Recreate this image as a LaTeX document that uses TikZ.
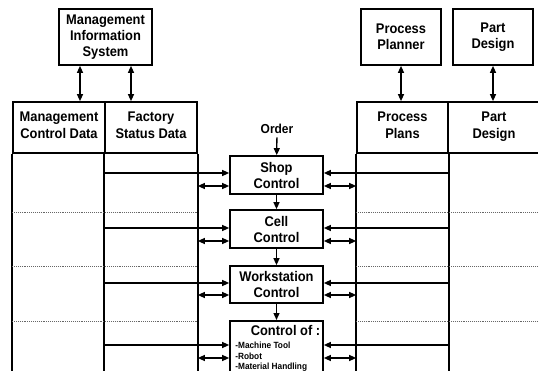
\documentclass[tikz,border=0pt]{standalone}
\usepackage{fontspec}
\setmainfont{Liberation Sans}[FakeStretch=0.92]
\usetikzlibrary{arrows.meta}

\begin{document}
\begin{tikzpicture}[x=1pt,y=-1pt]

\tikzstyle{topnode} = [draw,line width=1.7pt,align=center,minimum height=56pt,font=\fontsize{14}{16}\selectfont\bfseries];
\tikzstyle{headnode} = [draw,line width=1.7pt,align=center,minimum height=51pt,font=\fontsize{14}{17}\selectfont\bfseries,execute at begin node={\strut},execute at end node={\strut}];
\tikzstyle{ctrlnode} = [draw,line width=1.7pt,align=center,minimum width=93pt,font=\fontsize{14}{16}\selectfont\bfseries];
\tikzstyle{col} = [line width=1.7pt];
\tikzstyle{arr} = [line width=1.3pt,-{Triangle[length=7pt,width=6pt]}];
\tikzstyle{dbl} = [line width=1.3pt,{Triangle[length=7pt,width=6pt]}-{Triangle[length=7pt,width=6pt]}];
\tikzstyle{sep} = [line width=0.9pt,black!60,densely dotted];

\clip (0,0) rectangle (538,371);

% top boxes
\node [topnode,minimum width=93pt] (mis) at (105.5,37) {Management\\Information\\System};
\node [topnode,minimum width=80pt] (planner) at (401,37) {Process\\Planner};
\node [topnode,minimum width=80pt] (design) at (493,37) {Part\\Design};

% table headers
\node [headnode,minimum width=92pt] (mcd) at (59,127.5) {Management\\Control Data};
\node [headnode,minimum width=92pt] (fsd) at (151,127.5) {Factory\\Status Data};
\node [headnode,minimum width=91pt] (pp) at (402.5,127.5) {Process\\Plans};
\node [headnode,minimum width=92pt] (pd) at (494,127.5) {Part\\Design};

\draw [col] (mcd.south west) -- (mcd.south west |- 0,390);
\draw [col] (fsd.south west) -- (fsd.south west |- 0,390);
\draw [col] (fsd.south east) -- (fsd.south east |- 0,390);
\draw [col] (pp.south west) -- (pp.south west |- 0,390);
\draw [col] (pp.south east) -- (pp.south east |- 0,390);

\draw [dbl] ([xshift=-25.5pt]mis.south) -- ([xshift=-25.5pt]mis.south |- mcd.north);
\draw [dbl] ([xshift=25.5pt]mis.south) -- ([xshift=25.5pt]mis.south |- fsd.north);
\draw [dbl] (planner.south) -- (planner.south |- pp.north);
\draw [dbl] (design.south) -- (design.south |- pd.north);

% control levels
\node [font=\fontsize{13}{15}\selectfont\bfseries] (order) at (277,129) {Order};
\node [ctrlnode,minimum height=38pt] (shop) at (276.5,175) {Shop\\Control};
\node [ctrlnode,minimum height=38pt] (cell) at (276.5,229) {Cell\\Control};
\node [ctrlnode,minimum height=37pt] (work) at (276.5,284.5) {Workstation\\Control};
\node [ctrlnode,minimum height=70pt,anchor=north] (ctrl) at (276.5,320) {};
\node [anchor=north,font=\fontsize{14}{16}\selectfont\bfseries] (ctrlof) at ([xshift=9pt,yshift=-2pt]ctrl.north) {Control of :};
\node [anchor=north west,align=left,inner sep=0pt,font=\fontsize{9}{10.5}\selectfont\bfseries] (items) at ([xshift=6pt,yshift=-22pt]ctrl.north west) {-Machine Tool\\-Robot\\-Material Handling};

\draw [arr] (order) -- (shop);
\draw [arr] (shop) -- (cell);
\draw [arr] (cell) -- (work);
\draw [arr] (work) -- (ctrl);

\foreach \b/\ya/\yb in {shop/173/186,cell/228/241,work/283/295,ctrl/345/358}
{
  \draw [arr] (fsd.south west |- 0,\ya) -- (\b.west |- 0,\ya);
  \draw [arr] (pp.south east |- 0,\ya) -- (\b.east |- 0,\ya);
  \draw [dbl] (fsd.south east |- 0,\yb) -- (\b.west |- 0,\yb);
  \draw [dbl] (pp.south west |- 0,\yb) -- (\b.east |- 0,\yb);
}

\foreach \y in {212,266,321}
{
  \draw [sep] (mcd.west |- 0,\y) -- (fsd.east |- 0,\y);
  \draw [sep] (pp.west |- 0,\y) -- (pd.east |- 0,\y);
}

\end{tikzpicture}
\end{document}
